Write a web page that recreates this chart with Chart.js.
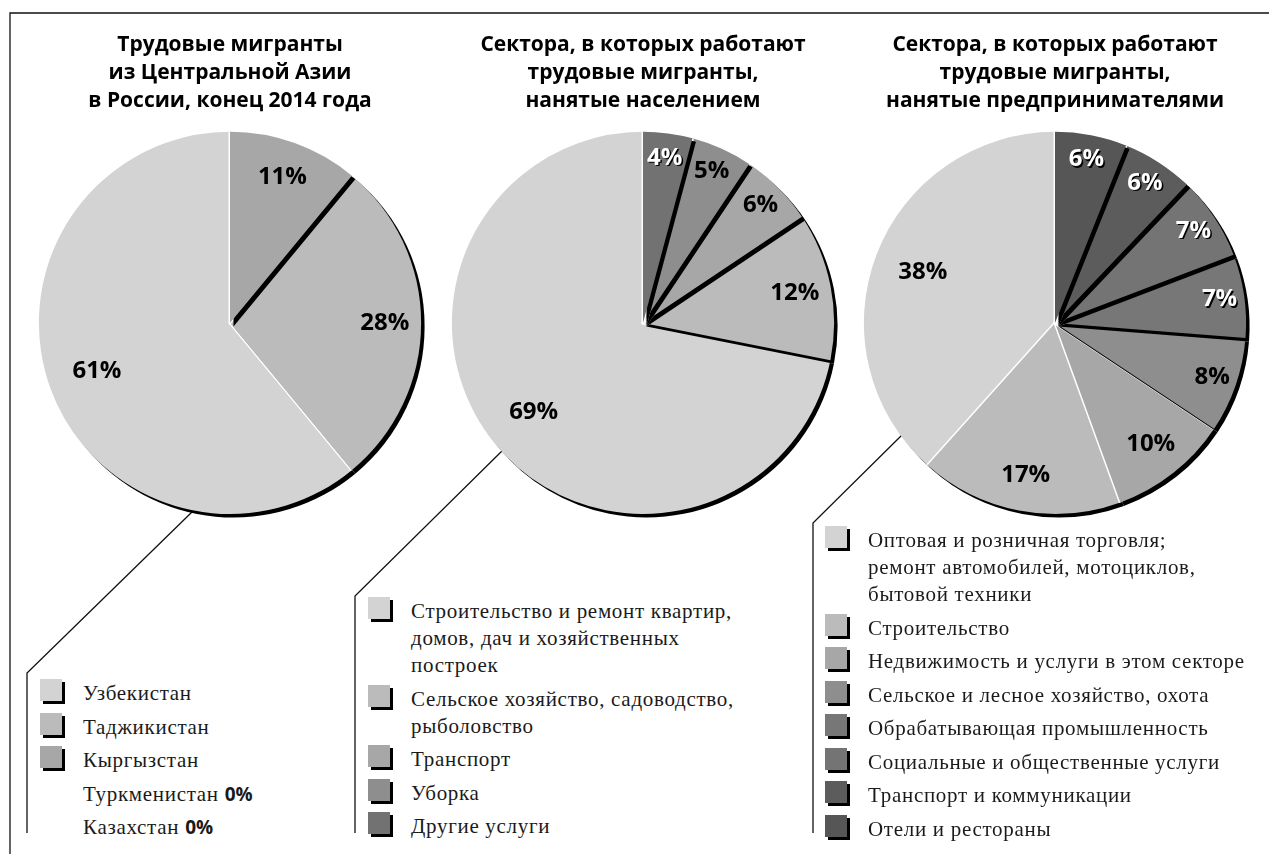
<!DOCTYPE html>
<html lang="ru">
<head>
<meta charset="utf-8">
<title>Трудовые мигранты из Центральной Азии</title>
<script src="https://cdn.jsdelivr.net/npm/chart.js@4.4.1/dist/chart.umd.min.js"></script>
<style>
    html, body { margin: 0; padding: 0; background: #fff; }
    #page { position: relative; width: 1269px; height: 854px; overflow: hidden; }
    canvas.pie { position: absolute; top: 0; }
    #c1 { left: 24px; }
    #c2 { left: 437px; }
    #c3 { left: 849px; }
    #lines { position: absolute; left: 0; top: 0; }
    .legend { position: absolute; font-family: 'Liberation Serif', serif; font-size: 21px; letter-spacing: 0.7px; line-height: 27px; color: #1a1a1a; white-space: nowrap; }
    .legend .item { position: relative; padding-left: 43px; margin-bottom: 6.5px; white-space: pre-line; }
    .legend .box { position: absolute; display: block; left: 0; top: -1px; width: 22px; height: 22px; box-shadow: 3px 3px 0 #000; }
    .legend b { font-family: 'Open Sans', sans-serif; font-weight: bold; font-size: 19px; letter-spacing: 0; }
    #l1 { left: 40px; top: 680px; }
    #l2 { left: 368px; top: 598px; }
    #l3 { left: 825px; top: 527px; }
</style>
</head>
<body>
<div id="page">
    <svg id="lines" width="1269" height="854">
        <g fill="none" stroke="#111" stroke-width="1.3">
            <polyline points="10,854 10,13 1269,13" />
            <polyline points="192,512 27,673 27,833" />
            <polyline points="503,450 355,596 355,833" />
            <polyline points="902,435 813,523 813,833" />
        </g>
    </svg>
    <canvas id="c1" class="pie" width="412" height="530"></canvas>
    <canvas id="c2" class="pie" width="412" height="530"></canvas>
    <canvas id="c3" class="pie" width="412" height="530"></canvas>
    <div id="l1" class="legend"></div>
    <div id="l2" class="legend"></div>
    <div id="l3" class="legend"></div>
</div>
<script>
// Трудовые мигранты из Центральной Азии в России, конец 2014 года
const title1 = ['Трудовые мигранты', 'из Центральной Азии', 'в России, конец 2014 года']
const countries = ['Узбекистан', 'Таджикистан', 'Кыргызстан', 'Туркменистан', 'Казахстан']
const countryShare = [61, 28, 11, 0, 0]
const countryColors = ['#d3d3d3', '#bbbbbb', '#a7a7a7', '#a7a7a7', '#a7a7a7']

// Сектора, наняты населением
const title2 = ['Сектора, в которых работают', 'трудовые мигранты,', 'нанятые населением']
const householdSectors = [
    'Строительство и ремонт квартир,\nдомов, дач и хозяйственных\nпостроек',
    'Сельское хозяйство, садоводство,\nрыболовство',
    'Транспорт',
    'Уборка',
    'Другие услуги'
]
const householdShare = [69, 12, 6, 5, 4]
const householdColors = ['#d3d3d3', '#bbbbbb', '#a7a7a7', '#8e8e8e', '#727272']

// Сектора, наняты предпринимателями
const title3 = ['Сектора, в которых работают', 'трудовые мигранты,', 'нанятые предпринимателями']
const businessSectors = [
    'Оптовая и розничная торговля;\nремонт автомобилей, мотоциклов,\nбытовой техники',
    'Строительство',
    'Недвижимость и услуги в этом секторе',
    'Сельское и лесное хозяйство, охота',
    'Обрабатывающая промышленность',
    'Социальные и общественные услуги',
    'Транспорт и коммуникации',
    'Отели и рестораны'
]
const businessShare = [38, 17, 10, 8, 7, 7, 6, 6]
const businessColors = ['#d3d3d3', '#bbbbbb', '#a7a7a7', '#8e8e8e', '#777777', '#747474', '#5c5c5c', '#565656']

// slices get a hard black drop shadow, drawn from the last slice back to the first
const shadowPie = {
    id: 'shadowPie',
    beforeDatasetsDraw: function(chart) {
        const ctx = chart.ctx
        const arcs = chart.getDatasetMeta(0).data
        for (let i = arcs.length - 1; i >= 0; i--) {
            const a = arcs[i]
            if (a.endAngle - a.startAngle <= 0) continue
            const r = a.outerRadius
            ctx.save()
            ctx.strokeStyle = '#fff'
            ctx.lineWidth = 3
            ctx.lineJoin = 'round'
            ctx.beginPath()
            ctx.moveTo(a.x + Math.cos(a.startAngle) * r, a.y + Math.sin(a.startAngle) * r)
            ctx.lineTo(a.x, a.y)
            ctx.lineTo(a.x + Math.cos(a.endAngle) * r, a.y + Math.sin(a.endAngle) * r)
            ctx.stroke()
            ctx.shadowColor = '#000'
            ctx.shadowOffsetX = 3.5
            ctx.shadowOffsetY = 3.5
            ctx.shadowBlur = 0
            a.draw(ctx)
            ctx.restore()
        }
        return false
    },
    afterDraw: function(chart) {
        const ctx = chart.ctx
        const ds = chart.data.datasets[0]
        chart.getDatasetMeta(0).data.forEach(function(a, i) {
            const v = ds.data[i]
            if (!v) return
            const mid = (a.startAngle + a.endAngle) / 2
            const k = v < 10 ? 0.87 : v < 30 ? 0.81 : 0.74
            const x = a.x + Math.cos(mid) * a.outerRadius * k
            const y = a.y + Math.sin(mid) * a.outerRadius * k
            const dark = parseInt(ds.backgroundColor[i].slice(1, 3), 16) < 0x80
            ctx.save()
            ctx.font = "bold 24px 'Open Sans', sans-serif"
            ctx.textAlign = 'center'
            ctx.textBaseline = 'middle'
            if (dark) {
                ctx.shadowColor = '#000'
                ctx.shadowOffsetX = 1.5
                ctx.shadowOffsetY = 1.5
                ctx.fillStyle = '#fff'
            } else {
                ctx.fillStyle = '#000'
            }
            ctx.fillText(v + '%', x, y)
            ctx.restore()
        })
    }
}

function makePie(id, title, labels, values, colors) {
    // clockwise from 12 o'clock the slices go in reverse legend order
    return new Chart(document.getElementById(id), {
        type: 'pie',
        data: {
            labels: labels.slice().reverse(),
            datasets: [{
                data: values.slice().reverse(),
                backgroundColor: colors.slice().reverse(),
                borderWidth: 0,
                hoverBorderWidth: 0,
                hoverOffset: 0
            }]
        },
        options: {
            responsive: false,
            animation: false,
            events: [],
            layout: {padding: {top: 0, bottom: 16, left: 0, right: 0}},
            plugins: {
                legend: {display: false},
                tooltip: {enabled: false},
                title: {
                    display: true,
                    text: title,
                    color: '#000',
                    font: {family: "'Open Sans', sans-serif", size: 21, weight: 'bold', lineHeight: 1.33},
                    padding: {top: 31, bottom: 17}
                }
            }
        },
        plugins: [shadowPie]
    })
}

function makeLegend(id, labels, values, colors) {
    const box = document.getElementById(id)
    labels.forEach(function(name, i) {
        const item = document.createElement('div')
        item.className = 'item'
        if (values[i] > 0) {
            const sq = document.createElement('span')
            sq.className = 'box'
            sq.style.background = colors[i]
            item.appendChild(sq)
            item.appendChild(document.createTextNode(name))
        } else {
            // zero shares have no slice, only the number
            item.appendChild(document.createTextNode(name + ' '))
            const b = document.createElement('b')
            b.textContent = values[i] + '%'
            item.appendChild(b)
        }
        box.appendChild(item)
    })
}

makePie('c1', title1, countries, countryShare, countryColors)
makePie('c2', title2, householdSectors, householdShare, householdColors)
makePie('c3', title3, businessSectors, businessShare, businessColors)
makeLegend('l1', countries, countryShare, countryColors)
makeLegend('l2', householdSectors, householdShare, householdColors)
makeLegend('l3', businessSectors, businessShare, businessColors)
</script>
</body>
</html>
